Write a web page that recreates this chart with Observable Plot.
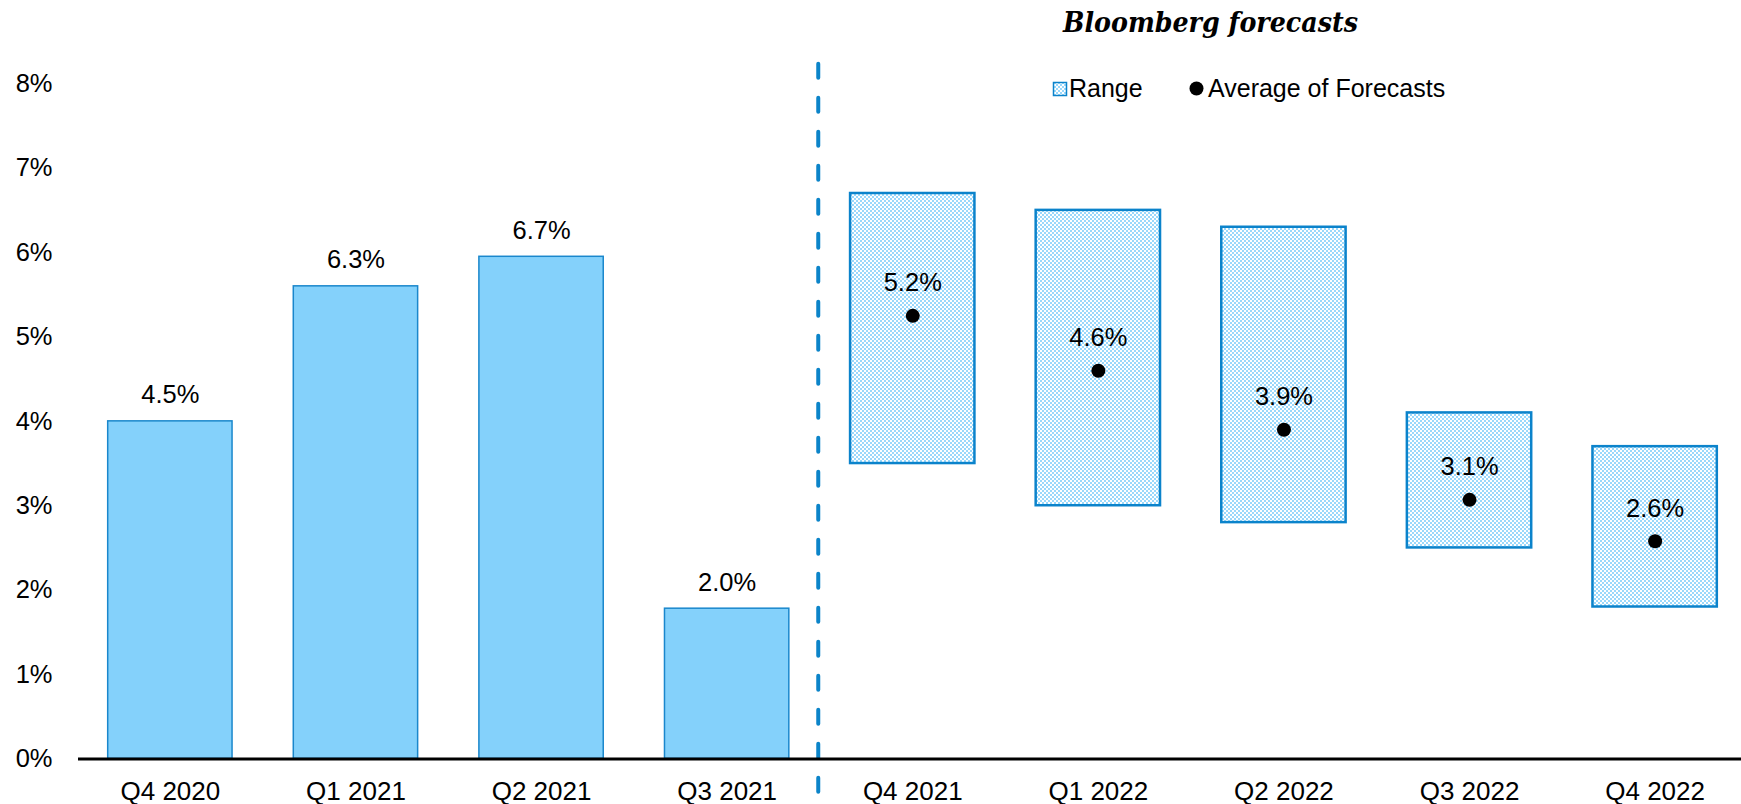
<!DOCTYPE html>
<html>
<head>
<meta charset="utf-8">
<script src="https://cdn.jsdelivr.net/npm/d3@7"></script>
<script src="https://cdn.jsdelivr.net/npm/@observablehq/plot@0.6"></script>
<style>
  html, body { margin: 0; padding: 0; background: #fff; overflow: hidden; }
  #chart svg { display: block; }
  #chart svg g[aria-label="x-axis tick label"] text { font-size: 26px; }
</style>
</head>
<body>
<div id="chart"></div>
<script>
// ---- data ----
const categories = ["Q4 2020", "Q1 2021", "Q2 2021", "Q3 2021", "Q4 2021", "Q1 2022", "Q2 2022", "Q3 2022", "Q4 2022"];
const actualQuarters = ["Q4 2020", "Q1 2021", "Q2 2021", "Q3 2021"];
const actualHeights = [4.0, 5.6, 5.95, 1.78];
const actualLabels = ["4.5%", "6.3%", "6.7%", "2.0%"];
const forecastQuarters = ["Q4 2021", "Q1 2022", "Q2 2022", "Q3 2022", "Q4 2022"];
const rangeLow = [3.5, 3.0, 2.8, 2.5, 1.8];
const rangeHigh = [6.7, 6.5, 6.3, 4.1, 3.7];
const forecastAvg = [5.25, 4.6, 3.9, 3.07, 2.58];
const forecastLabels = ["5.2%", "4.6%", "3.9%", "3.1%", "2.6%"];
const yTicks = [0, 1, 2, 3, 4, 5, 6, 7, 8];
const titleText = "Bloomberg forecasts";
const legendRange = "Range";
const legendAvg = "Average of Forecasts";

// ---- tables ----
const actual = actualQuarters.map((q, i) => ({q, v: actualHeights[i], label: actualLabels[i]}));
const forecast = forecastQuarters.map((q, i) => ({q, lo: rangeLow[i], hi: rangeHigh[i], avg: forecastAvg[i], label: forecastLabels[i]}));

// ---- layout ----
const W = 1741, H = 804;
const mL = 78, mR = 0, mT = 83.3, mB = 45.6;
const xRange = [78, 1746.5];
const pIn = 0.33, pOut = 0.16;
const step = (xRange[1] - xRange[0]) / (categories.length - pIn + 2 * pOut);
const FONT = "'Liberation Sans', Arial, Helvetica, sans-serif";
const BAR_FILL = "#84d1fb", BAR_STROKE = "#1a87cc", BOX_STROKE = "#0b83cb", DASH = "#0b84c9";
const CHECK = "#9ad8fb";

const svgNS = "http://www.w3.org/2000/svg";
function el(name, attrs, text) {
  const e = document.createElementNS(svgNS, name);
  for (const k in attrs) e.setAttribute(k, attrs[k]);
  if (text != null) e.textContent = text;
  return e;
}

// defs + title + legend (layout decoration)
function decor() {
  const g = el("g", {"text-anchor": "start"});
  const defs = el("defs", {});
  const pat = el("pattern", {id: "checker", width: 4, height: 4, patternUnits: "userSpaceOnUse"});
  pat.appendChild(el("rect", {x: 0, y: 0, width: 4, height: 4, fill: "#ffffff"}));
  pat.appendChild(el("rect", {x: 0, y: 0, width: 2, height: 2, fill: CHECK}));
  pat.appendChild(el("rect", {x: 2, y: 2, width: 2, height: 2, fill: CHECK}));
  defs.appendChild(pat);
  g.appendChild(defs);

  g.appendChild(el("text", {x: 1063, y: 32, "text-anchor": "start", "font-family": "'DejaVu Serif', Georgia, serif", "font-weight": "bold", "font-style": "italic",
    "font-size": 27, fill: "#000", textLength: 295, lengthAdjust: "spacingAndGlyphs"}, titleText));

  g.appendChild(el("rect", {x: 1053.5, y: 82.5, width: 13, height: 13, fill: "url(#checker)", stroke: BOX_STROKE, "stroke-width": 1.5}));
  g.appendChild(el("text", {x: 1069, y: 97, "text-anchor": "start", "font-family": FONT, "font-size": 25, fill: "#000"}, legendRange));
  g.appendChild(el("circle", {cx: 1196.5, cy: 88.5, r: 7, fill: "#000"}));
  g.appendChild(el("text", {x: 1208, y: 97, "text-anchor": "start", "font-family": FONT, "font-size": 25, fill: "#000"}, legendAvg));
  return g;
}

const chart = Plot.plot({
  width: W,
  height: H,
  marginLeft: mL,
  marginRight: mR,
  marginTop: mT,
  marginBottom: mB,
  style: {fontFamily: FONT, fontSize: "25.5px", color: "#000", background: "#fff", overflow: "visible"},
  x: {domain: categories, range: xRange, round: false, paddingInner: pIn, paddingOuter: pOut, label: null, tickSize: 0, tickPadding: 22.5},
  y: {domain: [0, 8], ticks: yTicks, tickFormat: d => d + "%", label: null, tickSize: 0, tickPadding: 26},
  marks: [
    decor,
    Plot.barY(actual, {x: "q", y: "v", fill: BAR_FILL, stroke: BAR_STROKE, strokeWidth: 1.5}),
    Plot.barY(forecast, {x: "q", y1: "lo", y2: "hi", fill: "url(#checker)", stroke: BOX_STROKE, strokeWidth: 2.5}),
    Plot.ruleX(["Q4 2021"], {x: d => d, y1: 8.232, y2: -0.6, dx: -step / 2 - 1.7, stroke: DASH, strokeWidth: 4,
      strokeDasharray: "14 20", strokeLinecap: "round"}),
    Plot.ruleY([0], {stroke: "#000", strokeWidth: 3}),
    Plot.text(actual, {x: "q", y: "v", text: "label", lineAnchor: "bottom", dy: -18, fontSize: 25.5, fill: "#000"}),
    Plot.dot(forecast, {x: "q", y: "avg", r: 7, fill: "#000", stroke: null}),
    Plot.text(forecast, {x: "q", y: "avg", text: "label", lineAnchor: "bottom", dy: -24.5, fontSize: 25.5, fill: "#000"})
  ]
});
document.getElementById("chart").appendChild(chart);
</script>
</body>
</html>
